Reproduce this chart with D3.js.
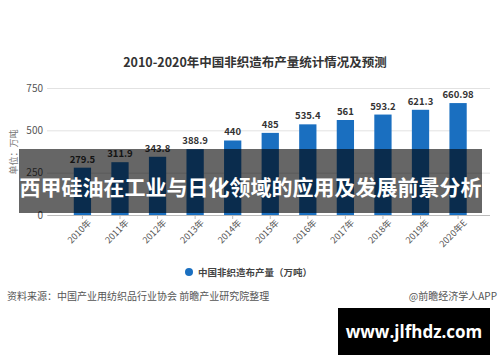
<!DOCTYPE html>
<html>
<head>
<meta charset="utf-8">
<script src="https://cdn.jsdelivr.net/npm/d3@7"></script>
<style>
  body { margin: 0; background: #fff; }
  text { font-family: "Noto Sans CJK SC", "Noto Sans", sans-serif; }
</style>
</head>
<body>
<div id="chart"></div>
<script>
// chart data
const years = ['2010年', '2011年', '2012年', '2013年', '2014年', '2015年', '2016年', '2017年', '2018年', '2019年', '2020年E'];
const output = [279.5, 311.9, 343.8, 388.9, 440, 485, 535.4, 561, 593.2, 621.3, 660.98];
const valueLabels = ['279.5', '311.9', '343.8', '388.9', '440', '485', '535.4', '561', '593.2', '621.3', '660.98'];
const yTicks = [0, 250, 500, 750];

const width = 500, height = 362;

const svg = d3.select("#chart")
    .append("svg")
    .attr("width", width)
    .attr("height", height);

svg.append("rect").attr("width", width).attr("height", height).attr("fill", "#fff");

// title
svg.append("text")
    .attr("x", 255)
    .attr("y", 67)
    .attr("text-anchor", "middle")
    .attr("font-size", 12.5)
    .attr("font-weight", "bold")
    .attr("fill", "#333")
    .text("2010-2020年中国非织造布产量统计情况及预测");

const x = d3.scaleBand()
    .domain(years)
    .range([53.5, 487])
    .padding(0.54);

const y = d3.scaleLinear()
    .domain([0, 750])
    .range([215, 88]);

// gridlines + y labels
const yAxis = svg.append("g")
    .attr("transform", "translate(47,0)")
    .call(d3.axisLeft(y).tickValues(yTicks).tickSize(-443).tickPadding(4));
yAxis.select(".domain").remove();
yAxis.selectAll(".tick line").attr("stroke", "#e2e2e2");
yAxis.selectAll(".tick text").attr("font-size", 10).attr("fill", "#555");

// y unit label
svg.append("text")
    .attr("transform", "translate(17,152) rotate(-90)")
    .attr("text-anchor", "middle")
    .attr("font-size", 9)
    .attr("fill", "#777")
    .text("单位：万吨");

// bars
svg.selectAll(".bar")
    .data(output)
    .enter().append("rect")
    .attr("class", "bar")
    .attr("x", (d, i) => x(years[i]))
    .attr("width", x.bandwidth())
    .attr("y", d => y(d))
    .attr("height", d => y(0) - y(d))
    .attr("fill", "#1a6fc0");

// value labels
svg.selectAll(".val")
    .data(output)
    .enter().append("text")
    .attr("class", "val")
    .attr("x", (d, i) => x(years[i]) + x.bandwidth() / 2)
    .attr("y", d => y(d) - 5)
    .attr("text-anchor", "middle")
    .attr("font-size", 9.5)
    .attr("font-weight", "bold")
    .attr("fill", "#333")
    .text((d, i) => valueLabels[i]);

// x axis
const xAxis = svg.append("g")
    .attr("transform", "translate(0," + y(0) + ")")
    .call(d3.axisBottom(x).tickSize(4).tickSizeOuter(0));
xAxis.select(".domain").attr("stroke", "#bbb").attr("d", "M47.5,0.5H490");
xAxis.selectAll(".tick line").attr("stroke", "#bbb");
xAxis.selectAll(".tick text")
    .attr("font-size", 9)
    .attr("fill", "#555")
    .attr("text-anchor", "end")
    .attr("transform", "translate(3,2) rotate(-45)")
    .attr("dy", "0.35em")
    .attr("y", 6);

// legend
svg.append("circle")
    .attr("cx", 189)
    .attr("cy", 272)
    .attr("r", 4)
    .attr("fill", "#1a6fc0");
svg.append("text")
    .attr("x", 198)
    .attr("y", 275.5)
    .attr("font-size", 9.5)
    .attr("font-weight", "bold")
    .attr("fill", "#444")
    .text("中国非织造布产量（万吨）");

// source line
svg.append("text")
    .attr("x", 7)
    .attr("y", 300)
    .attr("font-size", 10)
    .attr("fill", "#555")
    .text("资料来源：中国产业用纺织品行业协会 前瞻产业研究院整理");
svg.append("text")
    .attr("x", 497)
    .attr("y", 300)
    .attr("text-anchor", "end")
    .attr("font-size", 10)
    .attr("fill", "#555")
    .text("@前瞻经济学人APP");

// dark overlay banner
svg.append("rect")
    .attr("x", 19)
    .attr("y", 149)
    .attr("width", 463)
    .attr("height", 64)
    .attr("fill", "rgba(0,0,0,0.6)");
svg.append("text")
    .attr("x", 250.5)
    .attr("y", 195)
    .attr("text-anchor", "middle")
    .attr("font-size", 21)
    .attr("font-weight", "bold")
    .attr("fill", "#fff")
    .text("西甲硅油在工业与日化领域的应用及发展前景分析");

// site badge
svg.append("rect")
    .attr("x", 338)
    .attr("y", 308)
    .attr("width", 152)
    .attr("height", 47)
    .attr("fill", "#000");
svg.append("text")
    .attr("x", 414)
    .attr("y", 338)
    .attr("text-anchor", "middle")
    .attr("font-size", 17)
    .attr("font-weight", "bold")
    .attr("fill", "#fff")
    .style("font-family", "'Open Sans', 'DejaVu Sans', sans-serif")
    .text("www.jlfhdz.com");
</script>
</body>
</html>
